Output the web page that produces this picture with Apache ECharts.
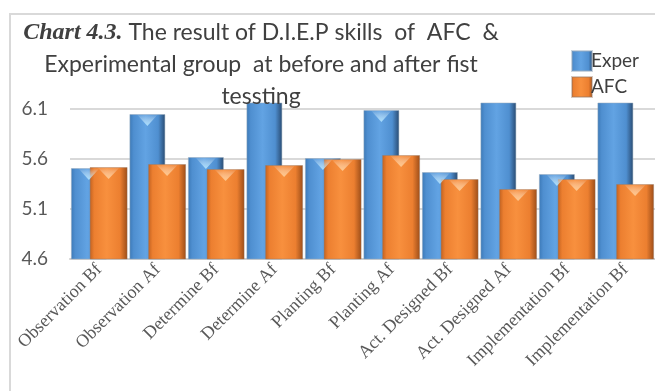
<!DOCTYPE html>
<html>
<head>
<meta charset="utf-8">
<script src="https://cdn.jsdelivr.net/npm/echarts@6/dist/echarts.min.js"></script>
<style>
  html, body { margin: 0; padding: 0; background: #fff; }
  #chart { width: 655px; height: 391px; }
</style>
</head>
<body>
<div id="chart"></div>
<script>
// Skill categories (before / after first testing)
const categories = [
  'Observation Bf', 'Observation Af', 'Determine Bf', 'Determine Af',
  'Planting Bf', 'Planting Af', 'Act. Designed Bf', 'Act. Designed Af',
  'Implementation Bf', 'Implementation Bf'
];

// Mean scores per group
const experValues = [5.51, 6.05, 5.62, 6.30, 5.61, 6.09, 5.47, 6.30, 5.45, 6.30];
const afcValues   = [5.52, 5.55, 5.50, 5.54, 5.60, 5.64, 5.40, 5.30, 5.40, 5.35];

// Value axis ticks
const yTicks = [4.6, 5.1, 5.6, 6.1];
const yMax = 6.16;

// Bar geometry: the two bars of a category overlap by about half a bar
const blueWidth = 36;
const orangeWidth = 38;
const overlap = 0.48;
const groupWidth = blueWidth + orangeWidth - overlap * blueWidth;
const blueCenter = -groupWidth / 2 + blueWidth / 2;
const orangeCenter = groupWidth / 2 - orangeWidth / 2;

const chart = echarts.init(document.getElementById('chart'));

function cylinder(dark, mid, light, edge) {
  return new echarts.graphic.LinearGradient(0, 0, 1, 0, [
    { offset: 0, color: dark },
    { offset: 0.12, color: mid },
    { offset: 0.45, color: light },
    { offset: 0.8, color: mid },
    { offset: 1, color: edge }
  ]);
}

const blueFill = cylinder('#3b78b6', '#4f8fd0', '#62a3e3', '#28496f');
const orangeFill = cylinder('#c0601f', '#ec7f30', '#f8903e', '#9a4c18');

// bevel highlight only where the bar top is inside the plot
const capData = arr => arr.map(v => (v > yMax ? '-' : v));

function capSeries(name, values, width, center, color) {
  return {
    name: name,
    type: 'pictorialBar',
    data: capData(values),
    symbol: 'triangle',
    symbolRotate: 180,
    symbolPosition: 'end',
    symbolSize: [width * 0.6, 12],
    symbolOffset: [center, 0],
    barWidth: 10,
    barGap: '-100%',
    silent: true,
    z: 3,
    itemStyle: {
      color: new echarts.graphic.LinearGradient(0, 0, 0, 1, [
        { offset: 0, color: color },
        { offset: 1, color: 'rgba(255,255,255,0)' }
      ])
    }
  };
}

chart.setOption({
  animation: false,
  title: {
    left: 256,
    top: 12,
    textAlign: 'center',
    text: '{b|Chart 4.3.}{n| The result of D.I.E.P skills  of  AFC  &}\n{n|Experimental group  at before and after fist}\n{n|tessting}',
    textStyle: {
      fontWeight: 'normal',
      rich: {
        b: { fontFamily: 'Liberation Serif', fontStyle: 'italic', fontWeight: 'bold', fontSize: 24, color: '#404040', lineHeight: 32 },
        n: { fontFamily: 'Lato', fontWeight: 'normal', fontSize: 23, color: '#404040', lineHeight: 32 }
      }
    }
  },
  legend: {
    orient: 'vertical',
    left: 566,
    top: 45,
    itemWidth: 20,
    itemHeight: 20,
    itemGap: 4,
    icon: 'rect',
    textStyle: { fontFamily: 'Lato', fontSize: 19, color: '#404040', padding: [0, 0, 0, -6] },
    data: ['Exper', 'AFC']
  },
  graphic: [
    {
      type: 'rect',
      shape: { x: 10, y: 14, width: 660, height: 400 },
      style: { fill: 'none', stroke: '#d9d9d9', lineWidth: 2 },
      silent: true,
      z: -1
    }
  ],
  grid: { left: 70, right: -5, top: 103, bottom: 132 },
  xAxis: {
    type: 'category',
    data: categories,
    axisTick: { show: false },
    axisLine: { show: true, lineStyle: { color: '#d0d0d0', width: 2 } },
    axisLabel: {
      interval: 0,
      rotate: 45,
      fontFamily: 'Liberation Serif',
      fontSize: 18,
      color: '#595959',
      margin: 8
    }
  },
  yAxis: {
    type: 'value',
    min: yTicks[0],
    max: yMax,
    interval: 0.5,
    axisLine: { show: false },
    axisTick: { show: false },
    axisLabel: {
      showMaxLabel: false,
      fontFamily: 'Lato',
      fontSize: 19,
      color: '#595959',
      margin: 22,
      formatter: v => (yTicks.some(t => Math.abs(t - v) < 1e-6) ? v.toFixed(1) : '')
    },
    splitLine: { showMaxLine: false, lineStyle: { color: '#d9d9d9', width: 2 } }
  },
  series: [
    {
      name: 'Exper',
      type: 'bar',
      data: experValues,
      barWidth: blueWidth,
      barGap: (-overlap * 100) + '%',
      clip: true,
      itemStyle: { color: blueFill, borderColor: 'rgba(150,170,190,0.5)', borderWidth: 1 }
    },
    {
      name: 'AFC',
      type: 'bar',
      data: afcValues,
      barWidth: orangeWidth,
      clip: true,
      itemStyle: { color: orangeFill, borderColor: 'rgba(150,120,100,0.4)', borderWidth: 1 }
    },
    capSeries('Exper', experValues, blueWidth, blueCenter, 'rgba(170,225,255,0.95)'),
    capSeries('AFC', afcValues, orangeWidth, orangeCenter, 'rgba(255,200,140,0.95)')
  ]
});
</script>
</body>
</html>
